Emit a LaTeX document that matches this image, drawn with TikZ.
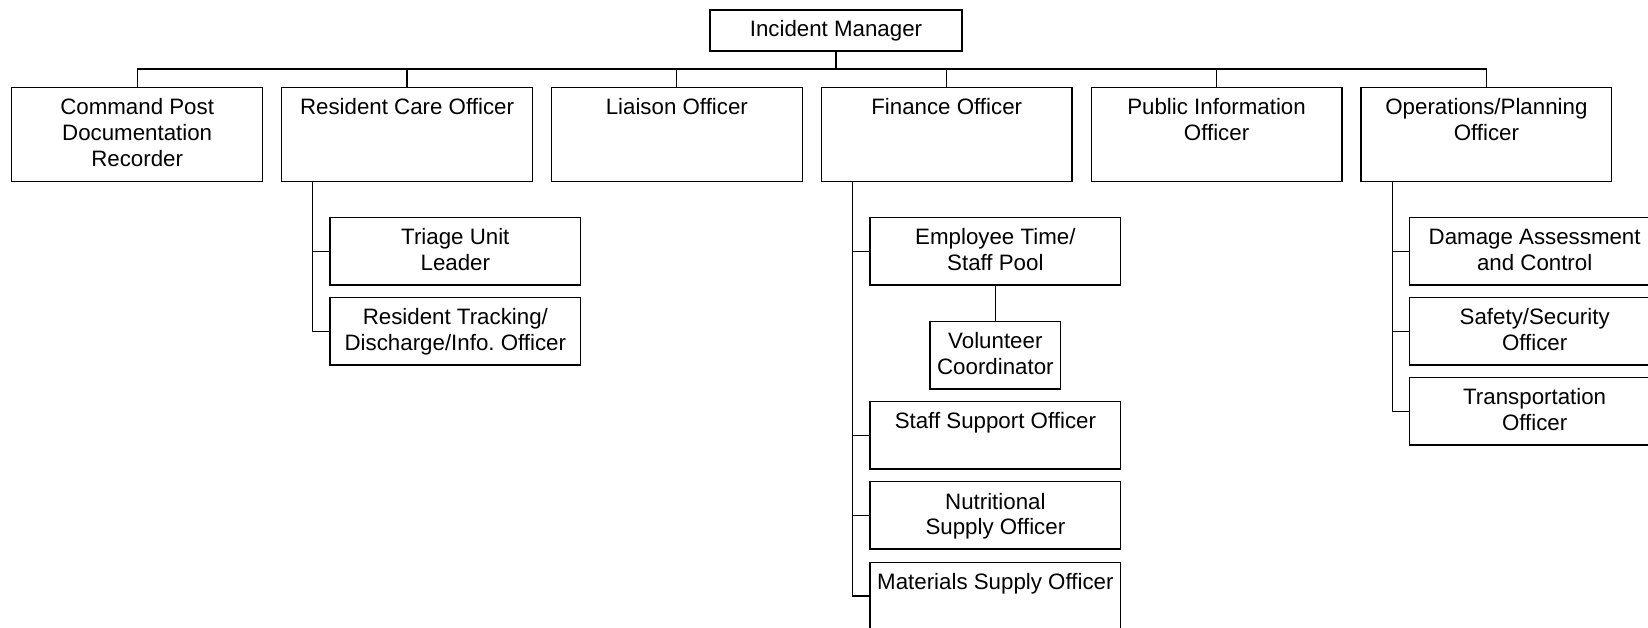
\documentclass[tikz,border=0pt]{standalone}
\usepackage{fontspec}
\setmainfont{Liberation Sans}
\frenchspacing
\begin{document}
\begin{tikzpicture}[x=0.5pt, y=-0.5pt,
  every node/.style={inner sep=0pt, outer sep=0pt},
  box/.style={draw, line width=0.65pt, anchor=north west, minimum width=125.35pt},
  topbox/.style={box, minimum height=46.8pt},
  subbox/.style={box, minimum height=33.65pt},
  lbl/.style={anchor=north, align=center, font=\fontsize{11.15}{12.85}\selectfont},
  wire/.style={line width=0.55pt}
]
\useasboundingbox (0,0) rectangle (1648,627);

% head of the chart
\node[box, minimum width=126pt, minimum height=20.5pt] (im) at (710,10) {};
\node[lbl] (im-t) at (836,18.7) {\strut Incident Manager};

% first tier
\node[topbox] (cp) at (11.8,87.7) {};
\node[lbl] (cp-t) at (137.15,97) {\strut Command Post\\Documentation\\Recorder};
\node[topbox] (rc) at (281.65,87.7) {};
\node[lbl] (rc-t) at (407,97) {\strut Resident Care Officer};
\node[topbox] (lo) at (551.5,87.7) {};
\node[lbl] (lo-t) at (676.85,97) {\strut Liaison Officer};
\node[topbox] (fo) at (821.35,87.7) {};
\node[lbl] (fo-t) at (946.7,97) {\strut Finance Officer};
\node[topbox] (pi) at (1091.2,87.7) {};
\node[lbl] (pi-t) at (1216.55,97) {\strut Public Information\\Officer};
\node[topbox] (op) at (1361.05,87.7) {};
\node[lbl] (op-t) at (1486.4,97) {\strut Operations/Planning\\Officer};

% resident care units
\node[subbox] (rc1) at (330,217.7) {};
\node[lbl] (rc1-t) at (455.35,227) {\strut Triage Unit\\Leader};
\node[subbox] (rc2) at (330,297.7) {};
\node[lbl] (rc2-t) at (455.35,307) {\strut Resident Tracking/\\Discharge/Info. Officer};

% finance units
\node[subbox] (fo1) at (870,217.7) {};
\node[lbl] (fo1-t) at (995.35,227) {\strut Employee Time/\\Staff Pool};
\node[subbox, minimum width=65.35pt] (vc) at (930,321.7) {};
\node[lbl] (vc-t) at (995.35,331) {\strut Volunteer\\Coordinator};
\node[subbox] (fo2) at (870,401.7) {};
\node[lbl] (fo2-t) at (995.35,411) {\strut Staff Support Officer};
\node[subbox] (fo3) at (870,481.7) {};
\node[lbl] (fo3-t) at (995.35,491) {\strut Nutritional\\Supply Officer};
\node[subbox] (fo4) at (870,562.3) {};
\node[lbl] (fo4-t) at (995.35,571.6) {\strut Materials Supply Officer};

% operations units
\node[subbox] (op1) at (1409.3,217.7) {};
\node[lbl] (op1-t) at (1534.65,227) {\strut Damage Assessment\\and Control};
\node[subbox] (op2) at (1409.3,297.7) {};
\node[lbl] (op2-t) at (1534.65,307) {\strut Safety/Security\\Officer};
\node[subbox] (op3) at (1409.3,377.7) {};
\node[lbl] (op3-t) at (1534.65,387) {\strut Transportation\\Officer};

% top-level bus
\coordinate (bus) at (836,69);
\draw[wire] (im.south) -- (bus);
\draw[wire] (cp.north) -- (cp.north |- bus) -- (op.north |- bus) -- (op.north);
\foreach \n in {rc,lo,fo,pi}
  \draw[wire] (\n.north) -- (\n.north |- bus);

% resident care branch
\coordinate (rcv) at ([xshift=15.35pt]rc.south west);
\draw[wire] (rcv) |- (rc2.west);
\draw[wire] (rcv |- rc1.west) -- (rc1.west);

% finance branch
\coordinate (fov) at ([xshift=15.5pt]fo.south west);
\draw[wire] (fov) |- (fo4.west);
\foreach \n in {fo1,fo2,fo3}
  \draw[wire] (fov |- \n.west) -- (\n.west);
\draw[wire] (fo1.south) -- (vc.north);

% operations branch
\coordinate (opv) at ([xshift=15.6pt]op.south west);
\draw[wire] (opv) |- (op3.west);
\foreach \n in {op1,op2}
  \draw[wire] (opv |- \n.west) -- (\n.west);
\end{tikzpicture}
\end{document}
